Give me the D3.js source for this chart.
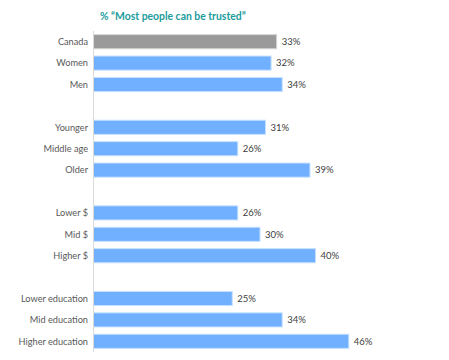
<!DOCTYPE html>
<html><head><meta charset="utf-8">
<script src="https://cdn.jsdelivr.net/npm/d3@7"></script>
<style>body{margin:0;background:#fff}svg{display:block}</style>
</head><body>
<script>
const categories = ["Canada","Women","Men","","Younger","Middle age","Older","","Lower $","Mid $","Higher $","","Lower education","Mid education","Higher education"];
const values = [33,32,34,null,31,26,39,null,26,30,40,null,25,34,46];
const title = "% \u201cMost people can be trusted\u201d";

const W=449,H=360;
const svg=d3.select("body").append("svg").attr("width",W).attr("height",H);
const keys = categories.map((c,i)=>i);
const y=d3.scaleBand().domain(keys).range([31,352]).paddingInner(0.34).paddingOuter(0.17);
const x=d3.scaleLinear().domain([0,50]).range([93.5,371]);
const font="Lato, 'Open Sans', sans-serif";

svg.append("text").attr("x",100).attr("y",20).attr("fill","#1c9c9c").attr("font-weight","bold")
  .attr("font-family",font).attr("font-size",10.4).text(title);

const data=keys.filter(i=>values[i]!=null).map(i=>({i,c:categories[i],v:values[i]}));
svg.selectAll("rect.bar").data(data).join("rect").attr("class","bar")
  .attr("x",x(0)).attr("y",d=>y(d.i)).attr("width",d=>x(d.v)-x(0)).attr("height",y.bandwidth())
  .attr("fill",d=>d.i===0?"#9a9a9a":"#70b0ff")
  .attr("stroke",d=>d.i===0?"#d6d6d6":"#c6e0ff").attr("stroke-width",1);

svg.append("line").attr("x1",x(0)).attr("x2",x(0)).attr("y1",31).attr("y2",352).attr("stroke","#d9d9d9").attr("stroke-width",1);

svg.selectAll("text.cat").data(data).join("text").attr("class","cat")
  .attr("x",88).attr("y",d=>y(d.i)+y.bandwidth()/2).attr("dy","0.35em").attr("text-anchor","end")
  .attr("font-family",font).attr("font-size",9.2).attr("fill","#595959").text(d=>d.c);

svg.selectAll("text.val").data(data).join("text").attr("class","val")
  .attr("x",d=>x(d.v)+5).attr("y",d=>y(d.i)+y.bandwidth()/2).attr("dy","0.35em")
  .attr("font-family",font).attr("font-size",9.5).attr("fill","#404040").text(d=>d.v+"%");
</script>
</body></html>
